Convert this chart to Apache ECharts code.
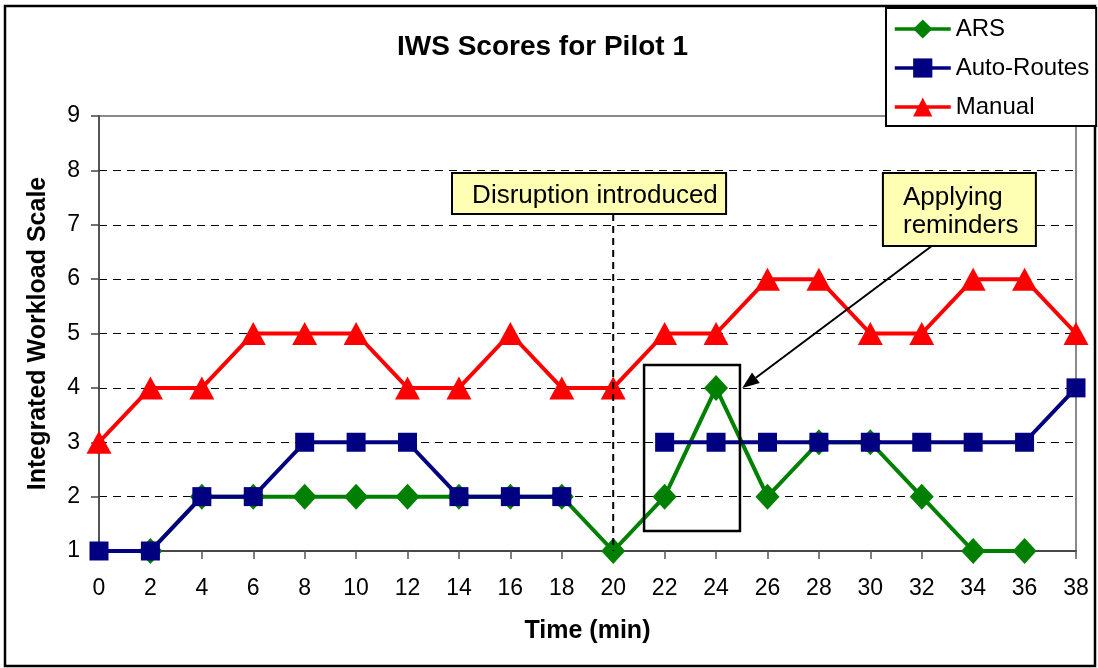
<!DOCTYPE html>
<html>
<head>
<meta charset="utf-8">
<script src="https://cdn.jsdelivr.net/npm/echarts@6/dist/echarts.min.js"></script>
<style>
  html, body { margin: 0; padding: 0; background: #fff; }
  #chart { width: 1098px; height: 668px; }
</style>
</head>
<body>
<div id="chart"></div>
<script>
// Sampling times (minutes) and IWS ratings per condition
const times = [0, 2, 4, 6, 8, 10, 12, 14, 16, 18, 20, 22, 24, 26, 28, 30, 32, 34, 36, 38];
const arsScores        = [null, 1, 2, 2, 2, 2, 2, 2, 2, 2, 1, 2, 4, 2, 3, 3, 2, 1, 1, null];
const autoRoutesScores = [1, 1, 2, 2, 3, 3, 3, 2, 2, 2, null, 3, 3, 3, 3, 3, 3, 3, 3, 4];
const manualScores     = [3, 4, 4, 5, 5, 5, 4, 4, 5, 4, 4, 5, 5, 6, 6, 5, 5, 6, 6, 5];

const seriesNames = ['ARS', 'Auto-Routes', 'Manual'];

// Annotation anchors, in data units (time, scale)
const disruptionTime = 20;
const disruptionLabel = 'Disruption introduced';
const disruptionBox = [[13.73, 7.95], [24.39, 7.20]];
const disruptionTextAt = [19.29, 7.53];
const reminderLabel = 'Applying\nreminders';
const reminderBox = [[30.49, 7.95], [36.44, 6.61]];
const reminderTextAt = [31.27, 7.23];
const highlightBox = [[21.2, 4.42], [24.93, 1.37]];
const arrowFrom = [32.39, 6.61];
const arrowTo = [25.02, 4.0];

const FONT = "'Liberation Sans', Arial, Helvetica, sans-serif";

function pairs(values) {
  return times.map((t, i) => [t, values[i]]);
}

const chart = echarts.init(document.getElementById('chart'), null, { renderer: 'canvas' });

const option = {
  animation: false,
  backgroundColor: '#fff',
  title: {
    text: 'IWS Scores for Pilot 1',
    left: 397,
    top: 33,
    padding: 0,
    textStyle: { fontFamily: FONT, fontSize: 28, fontWeight: 'bold', color: '#000' }
  },
  legend: {
    data: seriesNames,
    orient: 'vertical',
    left: 886,
    top: 8,
    padding: [9, 7, 7, 7],
    itemGap: 15,
    itemWidth: 56,
    itemHeight: 24,
    backgroundColor: '#fff',
    borderColor: '#000',
    borderWidth: 2,
    borderRadius: 0,
    lineStyle: { width: 3.5 },
    textStyle: { fontFamily: FONT, fontSize: 24, color: '#000' }
  },
  grid: {
    left: 99, right: 22, top: 116, bottom: 117,
    containLabel: false,
    outerBoundsMode: 'none',
    show: true,
    borderColor: '#8a8a8a',
    borderWidth: 2,
    backgroundColor: 'transparent'
  },
  xAxis: {
    type: 'value',
    min: 0, max: 38, interval: 2,
    name: 'Time (min)',
    nameLocation: 'middle',
    nameGap: 68,
    nameTextStyle: { fontFamily: FONT, fontSize: 25, fontWeight: 'bold', color: '#000' },
    axisLine: { show: true, onZero: false, lineStyle: { color: '#333', width: 1.5 } },
    axisTick: { show: true, inside: false, length: 8, lineStyle: { color: '#555', width: 1.5 } },
    axisLabel: { fontFamily: FONT, fontSize: 23, color: '#000', margin: 26, showMinLabel: true, showMaxLabel: true },
    splitLine: { show: false }
  },
  yAxis: {
    type: 'value',
    min: 1, max: 9, interval: 1,
    name: 'Integrated Workload Scale',
    nameLocation: 'middle',
    nameRotate: 90,
    nameGap: 48,
    nameTextStyle: { fontFamily: FONT, fontSize: 25, fontWeight: 'bold', color: '#000' },
    axisLine: { show: true, lineStyle: { color: '#444', width: 1.5 } },
    axisTick: { show: true, inside: false, length: 8, lineStyle: { color: '#444', width: 1.5 } },
    axisLabel: { fontFamily: FONT, fontSize: 23, color: '#000', margin: 19 },
    splitLine: {
      show: true,
      showMinLine: false,
      showMaxLine: false,
      lineStyle: { color: '#000', width: 1.2, type: [8, 6] }
    }
  },
  series: [
    {
      name: 'ARS',
      type: 'line',
      data: pairs(arsScores),
      symbol: 'diamond',
      symbolSize: [24, 26],
      showAllSymbol: true,
      connectNulls: false,
      clip: false,
      itemStyle: { color: '#008000' },
      lineStyle: { color: '#008000', width: 4 },
      z: 2
    },
    {
      name: 'Auto-Routes',
      type: 'line',
      data: pairs(autoRoutesScores),
      symbol: 'rect',
      symbolSize: 19,
      showAllSymbol: true,
      connectNulls: false,
      clip: false,
      itemStyle: { color: '#000080' },
      lineStyle: { color: '#000080', width: 4 },
      z: 3
    },
    {
      name: 'Manual',
      type: 'line',
      data: pairs(manualScores),
      symbol: 'triangle',
      symbolSize: [25, 23],
      showAllSymbol: true,
      connectNulls: false,
      clip: false,
      itemStyle: { color: '#ff0000' },
      lineStyle: { color: '#ff0000', width: 4 },
      z: 4
    }
  ]
};

chart.setOption(option);

// Annotations drawn on top of the plot, placed through the axes
function px(pt) {
  return chart.convertToPixel({ gridIndex: 0 }, pt);
}
function boxFrom(corners) {
  const a = px(corners[0]);
  const b = px(corners[1]);
  return { x: Math.min(a[0], b[0]), y: Math.min(a[1], b[1]), width: Math.abs(b[0] - a[0]), height: Math.abs(b[1] - a[1]) };
}

const dBox = boxFrom(disruptionBox);
const rBox = boxFrom(reminderBox);
const hBox = boxFrom(highlightBox);
const dTop = px([disruptionTime, disruptionBox[1][1]]);
const dBottom = px([disruptionTime, 1]);
const aFrom = px(arrowFrom);
const aTo = px(arrowTo);
const dx = aTo[0] - aFrom[0], dy = aTo[1] - aFrom[1];
const len = Math.sqrt(dx * dx + dy * dy);
const ux = dx / len, uy = dy / len;
const headLen = 17, headHalf = 6.5;
const baseX = aTo[0] - ux * headLen, baseY = aTo[1] - uy * headLen;
const dText = px(disruptionTextAt);
const rText = px(reminderTextAt);

chart.setOption({
  graphic: [
    {
      type: 'rect', z: 0, silent: true,
      shape: { x: 5, y: 6, width: 1090, height: 660 },
      style: { fill: 'none', stroke: '#000', lineWidth: 2.5 }
    },
    {
      type: 'line', z: 100, silent: true,
      shape: { x1: dTop[0], y1: dTop[1], x2: dBottom[0], y2: dBottom[1] },
      style: { stroke: '#000', lineWidth: 2, lineDash: [7, 5] }
    },
    {
      type: 'rect', z: 100, silent: true,
      shape: hBox,
      style: { fill: 'none', stroke: '#000', lineWidth: 2.5 }
    },
    {
      type: 'line', z: 100, silent: true,
      shape: { x1: aFrom[0], y1: aFrom[1], x2: baseX, y2: baseY },
      style: { stroke: '#000', lineWidth: 2 }
    },
    {
      type: 'polygon', z: 100, silent: true,
      shape: { points: [
        [aTo[0], aTo[1]],
        [baseX - uy * headHalf, baseY + ux * headHalf],
        [baseX + uy * headHalf, baseY - ux * headHalf]
      ] },
      style: { fill: '#000' }
    },
    {
      type: 'rect', z: 101, silent: true,
      shape: dBox,
      style: { fill: '#ffffb4', stroke: '#000', lineWidth: 2 }
    },
    {
      type: 'text', z: 102, silent: true,
      style: {
        text: disruptionLabel, x: dText[0], y: dText[1],
        align: 'center', verticalAlign: 'middle',
        font: '26px ' + FONT, fill: '#000'
      }
    },
    {
      type: 'rect', z: 101, silent: true,
      shape: rBox,
      style: { fill: '#ffffb4', stroke: '#000', lineWidth: 2 }
    },
    {
      type: 'text', z: 102, silent: true,
      style: {
        text: reminderLabel, x: rText[0], y: rText[1],
        align: 'left', verticalAlign: 'middle', lineHeight: 28,
        font: '26px ' + FONT, fill: '#000'
      }
    }
  ]
});
</script>
</body>
</html>
